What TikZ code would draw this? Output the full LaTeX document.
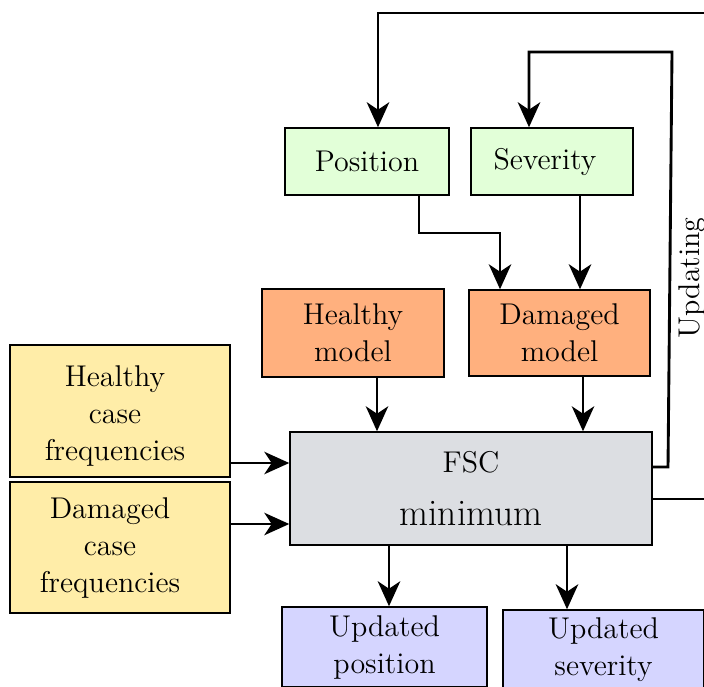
\documentclass[tikz,border=0pt]{standalone}
\usetikzlibrary{arrows.meta,calc}
\definecolor{cgreen}{HTML}{E2FFD8}
\definecolor{corange}{HTML}{FFB07E}
\definecolor{cyellow}{HTML}{FFEDA8}
\definecolor{cgray}{HTML}{DCDEE2}
\definecolor{cpurple}{HTML}{D5D5FF}
\begin{document}
\begin{tikzpicture}[x=0.4pt,y=-0.4pt,
  box/.style={draw=black,line width=0.6pt,rectangle,align=center,inner sep=0pt,
    font=\fontsize{12}{14.8}\selectfont},
  arr/.style={line width=1.15pt,-{Stealth[length=10pt,width=9pt,inset=3pt]}},
  thin arr/.style={line width=0.85pt,-{Stealth[length=10pt,width=9pt,inset=3pt]}},
  wire/.style={line width=0.85pt}]
\useasboundingbox (0,0) rectangle (704,686);
\clip (0,0) rectangle (704,686);
% nodes
\node[box,fill=cgreen,minimum width=65.6pt,minimum height=26.8pt] (pos) at (367,161.5) {Position};
\node[box,fill=cgreen,minimum width=64.8pt,minimum height=26.8pt] (sev) at (552,161.5) {Severity\hspace{5.6pt}};
\node[box,fill=corange,minimum width=72.8pt,minimum height=35.2pt] (hm) at (353,333) {Healthy\\model};
\node[box,fill=corange,minimum width=72.4pt,minimum height=34.4pt] (dm) at (559.5,333) {Damaged\\model};
\node[box,fill=cgray,minimum width=144.8pt,minimum height=45.2pt] (fsc) at (471,488.5) {FSC\hspace{6.4pt}\\[6.5pt]{\fontsize{15}{18}\selectfont minimum}};
\node[box,fill=cyellow,minimum width=88pt,minimum height=52.8pt] (hcf) at (120,411) {\hspace{-4pt}\rule{0pt}{12.5pt}Healthy\\\hspace{-4pt}case\\\hspace{-4pt}frequencies};
\node[box,fill=cyellow,minimum width=88pt,minimum height=52.4pt] (dcf) at (120,547.5) {\hspace{-8pt}Damaged\\\hspace{-8pt}case\\\hspace{-8pt}frequencies};
\node[box,fill=cpurple,minimum width=82pt,minimum height=32pt] (up) at (384.5,647) {Updated\\position};
\node[box,fill=cpurple,minimum width=80.4pt,minimum height=32pt] (us) at (603.5,650) {Updated\\severity};
\node[font=\fontsize{12}{14.8}\selectfont,rotate=90,inner sep=0pt] (upd) at (692,278) {Updating};
% coordinates for connector ends
\coordinate (tr) at (704,13);
\coordinate (er) at (704,499);
\coordinate (u1) at (668,467);
\coordinate (u2) at (672,52);
\coordinate (pn) at ($(pos.north)+(11,0)$);
\coordinate (sn) at ($(sev.north)+(-23,0)$);
\coordinate (fe1) at ($(fsc.east)+(0,-21.5)$);
\coordinate (fe2) at ($(fsc.east)+(0,10.5)$);
\coordinate (ps) at ($(pos.south)+(52,0)$);
\coordinate (pk) at (500,233);
\coordinate (dn) at ($(dm.north)+(-59.5,0)$);
\coordinate (ss) at ($(sev.south)+(28,0)$);
\coordinate (hs) at ($(hm.south)+(24,0)$);
\coordinate (ds) at ($(dm.south)+(23.5,0)$);
\coordinate (he) at ($(hcf.east)+(0,52)$);
\coordinate (de) at ($(dcf.east)+(0,-23.5)$);
\coordinate (fs1) at ($(fsc.south)+(-82,0)$);
\coordinate (fs2) at ($(fsc.south)+(96,0)$);
% connectors
\draw[arr] (tr) -| (pn);
\draw[arr] (fe1) -- (u1) -- (u2) -| (sn);
\draw[thin arr] (ps) |- (pk) -- (dn);
\draw[arr] (ss) -- (ss |- dm.north);
\draw[thin arr] (hs) -- (hs |- fsc.north);
\draw[thin arr] (ds) -- (ds |- fsc.north);
\draw[thin arr] (he) -- (he -| fsc.west);
\draw[thin arr] (de) -- (de -| fsc.west);
\draw[wire] (fe2) -- (er);
\draw[arr] (fs1) -- (fs1 |- up.north);
\draw[arr] (fs2) -- (fs2 |- us.north);
\end{tikzpicture}
\end{document}
